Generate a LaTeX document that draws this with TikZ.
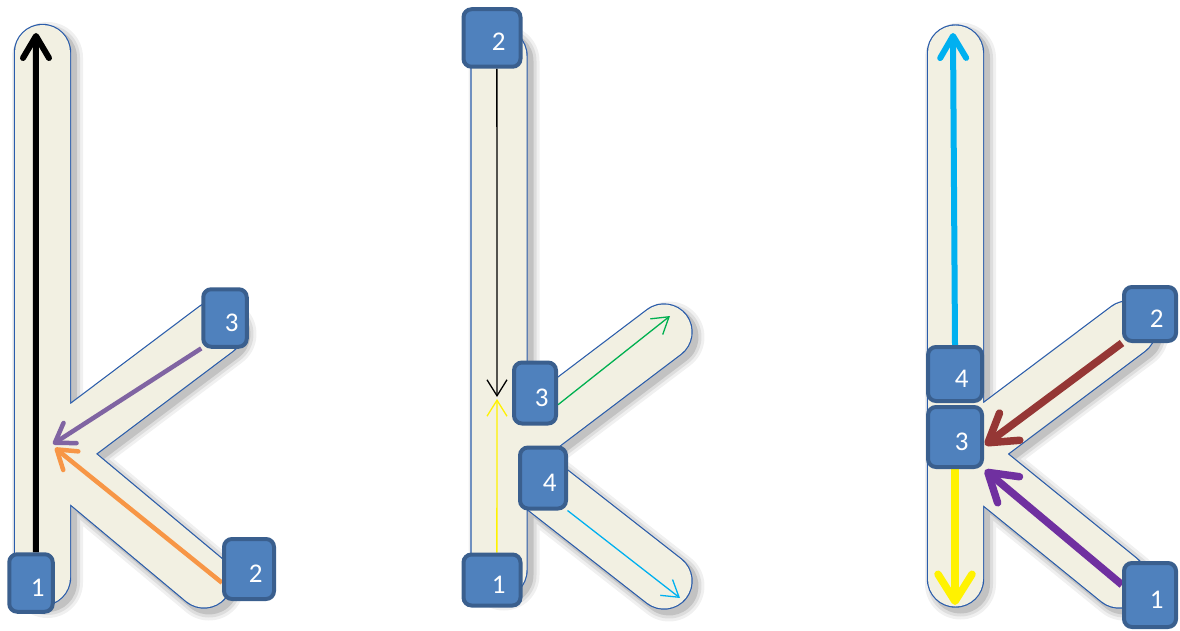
\documentclass[tikz,border=0pt]{standalone}
\usepackage{fontspec}
\newfontfamily\boxfont{Carlito}
\usepackage{xcolor}
\definecolor{kcream}{HTML}{F2F0E2}
\definecolor{kline}{HTML}{2A5CAA}
\definecolor{boxblue}{HTML}{4F81BD}
\definecolor{boxline}{HTML}{3A5F8E}
\definecolor{korange}{HTML}{F79646}
\definecolor{kpurple}{HTML}{8064A2}
\definecolor{kviolet}{HTML}{7030A0}
\definecolor{kgreen}{HTML}{00B050}
\definecolor{kcyan}{HTML}{00B0F0}
\definecolor{kbrown}{HTML}{953735}
\usetikzlibrary{arrows.meta,backgrounds}
\tikzset{
  kedge/.style={draw=kline, line cap=round, line width=57.4pt},
  kbody/.style={draw=kcream, line cap=round, line width=55pt},
  numbox/.style={draw=boxline, fill=boxblue, line width=4pt, rounded corners=8pt,
                 text=white, font=\boxfont\fontsize{27}{30}\selectfont,
                 text width=27pt, align=right, text height=26pt, text depth=0pt,
                 inner sep=0pt, minimum width=43.5pt, minimum height=57.5pt},
  thinar/.style={line width=1.3pt, -{Straight Barb[length=16pt, width=20pt]}},
  midar/.style={line width=4.5pt, -{Straight Barb[round, length=18pt, width=24pt]}},
  bigar/.style={line width=6pt, -{Straight Barb[round, length=22pt, width=26pt]}},
  fatar/.style={line width=7.5pt, -{Straight Barb[round, length=27pt, width=34pt]}},
}

\begin{document}
\begin{tikzpicture}[x=1pt, y=-1pt]
  \useasboundingbox (0,0) rectangle (1180,631);

  % stroke ends of the three letters
  \coordinate (k1-top) at (42.5,52.5);  \coordinate (k1-bot) at (42.5,577.5);
  \coordinate (k1-ua) at (46,457);      \coordinate (k1-ub) at (216,329);
  \coordinate (k1-la) at (46,448);      \coordinate (k1-lb) at (204,580);
  \coordinate (k2-top) at (499,56);     \coordinate (k2-bot) at (499,570);
  \coordinate (k2-ua) at (503,454);     \coordinate (k2-ub) at (664,332);
  \coordinate (k2-la) at (503,455);     \coordinate (k2-lb) at (664,581);
  \coordinate (k3-top) at (955.5,53);   \coordinate (k3-bot) at (955.5,579);
  \coordinate (k3-ua) at (959,456);     \coordinate (k3-ub) at (1128,329);
  \coordinate (k3-la) at (959,450);     \coordinate (k3-lb) at (1119,580);

  % numbered boxes
  \node[numbox] (a1) at (31,583) {1};
  \node[numbox, minimum width=50pt, minimum height=60pt] (a2) at (249,569) {2};
  \node[numbox] (a3) at (225,318) {3};
  \node[numbox, minimum width=57pt] (b2) at (492,38) {2};
  \node[numbox, minimum width=42pt, minimum height=61pt] (b3) at (535,393) {3};
  \node[numbox, minimum width=46pt, minimum height=61pt] (b4) at (543,478) {4};
  \node[numbox, minimum width=57pt, minimum height=51pt] (b1) at (492,580) {1};
  \node[numbox, minimum width=54pt, minimum height=54pt] (c4) at (955,374) {4};
  \node[numbox, minimum width=54pt, minimum height=60pt] (c3) at (955,437) {3};
  \node[numbox, minimum width=52pt, minimum height=54pt] (c2) at (1150,314) {2};
  \node[numbox, minimum width=52pt, minimum height=64pt] (c1) at (1150,595) {1};

  % arrow tips
  \coordinate (a-up) at (36,33);
  \coordinate (a-otip) at (55,448);
  \coordinate (a-ptip) at (53,444);
  \coordinate (b-mid1) at (497,397);
  \coordinate (b-mid2) at (497,399);
  \coordinate (b-up) at (670,316);
  \coordinate (b-down) at (680,598);
  \coordinate (c-up) at (953,33);
  \coordinate (c-down) at (955,605);
  \coordinate (c-btip) at (985,445);
  \coordinate (c-vtip) at (985,470);

  \begin{scope}[on background layer]
    % soft shadow
    \begin{scope}[transform canvas={xshift=5pt, yshift=-5pt}]
      \foreach \w/\o in {71/0.06, 65/0.08, 59/0.12} {
        \begin{scope}[transparency group, opacity=\o]
          \foreach \k in {k1,k2,k3}
            \draw[line cap=round, line width=\w pt]
              (\k-top) -- (\k-bot) (\k-ua) -- (\k-ub) (\k-la) -- (\k-lb);
        \end{scope}
      }
    \end{scope}
    % letters
    \foreach \k in {k1,k2,k3}
      \draw[kedge] (\k-top) -- (\k-bot) (\k-ua) -- (\k-ub) (\k-la) -- (\k-lb);
    \foreach \k in {k1,k2,k3}
      \draw[kbody] (\k-top) -- (\k-bot) (\k-ua) -- (\k-ub) (\k-la) -- (\k-lb);

    % first k
    \draw[bigar] (a1.81) -- (a-up);
    \draw[midar, kpurple] (a3.232) -- (a-ptip);
    \draw[midar, korange] (a2.207) -- (a-otip);
    % second k
    \draw[thinar] (b2.279) -- (b-mid1);
    \draw[thinar, yellow] (b1.80) -- (b-mid2);
    \draw[thinar, kgreen] (b3.333) -- (b-up);
    \draw[thinar, kcyan] (b4.307) -- (b-down);
    % third k
    \draw[bigar, kcyan] (c4.north) -- (c-up);
    \draw[fatar, yellow] (c3.south) -- (c-down);
    \draw[fatar, kbrown] (c2.226) -- (c-btip);
    \draw[fatar, kviolet] (c1.160) -- (c-vtip);
  \end{scope}
\end{tikzpicture}
\end{document}
